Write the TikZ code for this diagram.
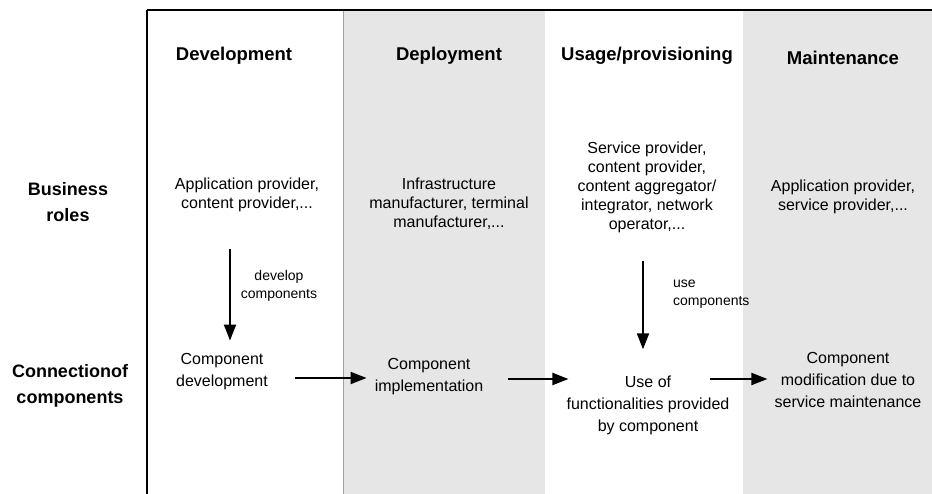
\documentclass[tikz,border=0pt]{standalone}
\usepackage{fontspec}
\setmainfont{Liberation Sans}
\usetikzlibrary{arrows.meta}
\definecolor{colgray}{RGB}{230,230,230}
\definecolor{edgegray}{RGB}{160,160,160}
\tikzset{
  phasehead/.style={font=\fontsize{18.5}{22}\selectfont\bfseries, inner sep=0pt},
  rowhead/.style={font=\fontsize{18}{26}\selectfont\bfseries, align=center, inner sep=0pt},
  cell/.style={font=\fontsize{16}{19}\selectfont, align=center, inner sep=0pt},
  compcell/.style={font=\fontsize{16}{22}\selectfont, align=center, inner sep=0pt},
  flowlabel/.style={font=\fontsize{14}{18}\selectfont, inner sep=0pt},
  arr/.style={-{Triangle[length=16pt,width=12pt]}, line width=2pt}
}
\begin{document}
\begin{tikzpicture}[x=1pt,y=-1pt]
  \useasboundingbox (0,0) rectangle (932,494);
  % shaded phase columns
  \fill[colgray] (343,11) rectangle (545,494);
  \fill[colgray] (743,11) rectangle (932,494);
  \draw[edgegray, line width=0.8pt] (343,11) -- (343,494);
  % frame
  \draw[line width=2.6pt] (147,10) -- (932,10);
  \draw[line width=2pt] (147,10) -- (147,494);

  % phase headings
  \node[phasehead] (hdev) at (234,56) {Development};
  \node[phasehead] (hdep) at (449,56) {Deployment};
  \node[phasehead] (huse) at (647,56) {Usage/provisioning};
  \node[phasehead] (hmnt) at (843,58) {Maintenance};

  % row headings
  \node[rowhead] (rbiz) at (68,202) {Business\\roles};
  \node[rowhead] (rcon) at (70,386) {Connectionof\\components};

  % business roles
  \node[cell] (bdev) at (247,195) {Application provider,\\content provider,...};
  \node[cell] (bdep) at (449,204) {Infrastructure\\manufacturer, terminal\\manufacturer,...};
  \node[cell] (buse) at (647,187) {Service provider,\\content provider,\\content aggregator/\\integrator, network\\operator,...};
  \node[cell] (bmnt) at (843,197) {Application provider,\\service provider,...};

  % component connection
  \node[compcell] (cdev) at (222,372) {Component\\development};
  \node[compcell] (cimp) at (429,377) {Component\\implementation};
  \node[compcell] (cuse) at (648,405) {Use of\\functionalities provided\\by component};
  \node[compcell] (cmod) at (848,380) {Component\\modification due to\\service maintenance};

  % vertical flows
  \draw[arr, shorten <=37pt, shorten >=13pt] (bdev.south -| 230,0) -- (cdev.north -| 230,0);
  \node[flowlabel, align=center] (ldev) at (279,286) {develop\\components};
  \draw[arr, shorten <=28pt, shorten >=26pt] (buse.south -| 643,0) -- (cuse.north -| 643,0);
  \node[flowlabel, align=left, anchor=west] (luse) at (673,294) {use\\components};

  % horizontal flows
  \draw[arr] ([xshift=27pt]cdev.east |- 0,378) -- ([xshift=-8pt]cimp.west |- 0,378);
  \draw[arr] ([xshift=25pt]cimp.east |- 0,379) -- ([xshift=2pt]cuse.west |- 0,379);
  \draw[arr] ([xshift=-64pt]cmod.west |- 0,379) -- ([xshift=-7pt]cmod.west |- 0,379);
\end{tikzpicture}
\end{document}
